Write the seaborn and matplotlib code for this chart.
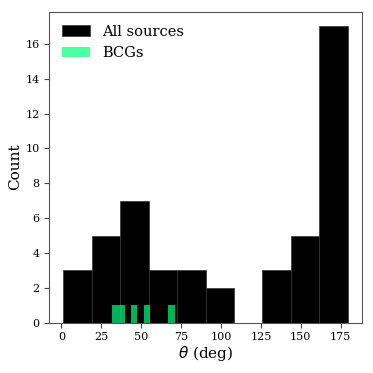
import numpy as np
import pandas as pd
import matplotlib
matplotlib.use("Agg")
import matplotlib.pyplot as plt
import seaborn as sns

# all sources: 10 equal bins between ~1.3 and ~179.3 deg
all_edges = list(np.linspace(1.3, 179.3, 11))
all_counts = [3, 5, 7, 3, 3, 2, 0, 3, 5, 17]

# BCGs: 10 bins between ~32 and ~71 deg
bcg_edges = list(np.linspace(32.0, 71.0, 11))
bcg_counts = [1, 1, 0, 1, 0, 1, 0, 0, 0, 1]

all_mid = [(a + b) / 2 for a, b in zip(all_edges[:-1], all_edges[1:])]
bcg_mid = [(a + b) / 2 for a, b in zip(bcg_edges[:-1], bcg_edges[1:])]
all_df = pd.DataFrame({"theta": all_mid, "n": all_counts})
bcg_df = pd.DataFrame({"theta": bcg_mid, "n": bcg_counts})

plt.rcParams["font.family"] = "DejaVu Serif"

fig = plt.figure(figsize=(3.73, 3.73), dpi=100)
ax = fig.add_axes([0.132, 0.135, 0.838, 0.834])

sns.histplot(data=all_df, x="theta", weights="n", bins=all_edges, color="black",
             alpha=1, edgecolor="#333333", linewidth=0.5, label="All sources", ax=ax)
sns.histplot(data=bcg_df, x="theta", weights="n", bins=bcg_edges, color="springgreen",
             alpha=0.7, linewidth=0, label="BCGs", ax=ax)

ax.set_xlabel(r"$\theta$ (deg)", fontsize=11, labelpad=1.5)
ax.set_ylabel("Count", fontsize=11, labelpad=2)
ax.set_xticks([0, 25, 50, 75, 100, 125, 150, 175])
ax.set_yticks(range(0, 17, 2))
ax.tick_params(labelsize=8, color="#444444", length=3.5)
for s in ax.spines.values():
    s.set_color("#555555")
ax.legend(loc="upper left", frameon=False, fontsize=10.5, handlelength=1.9)

fig.savefig("out.png", dpi=100)
